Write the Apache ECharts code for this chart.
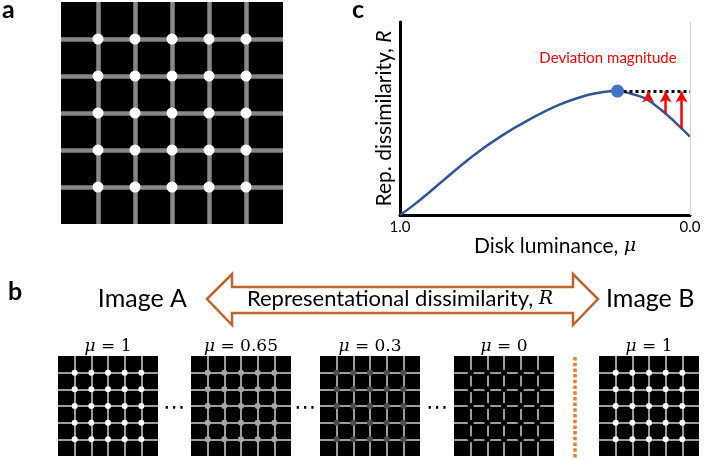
<!DOCTYPE html>
<html><head><meta charset="utf-8">
<script src="https://cdn.jsdelivr.net/npm/echarts@6/dist/echarts.min.js"></script>
<style>html,body{margin:0;padding:0;background:#fff}#c{width:704px;height:459px}</style>
</head><body><div id="c"></div>
<script>
// ---- data ----
const illusionLines = [1, 2, 3, 4, 5];                 // grid-line / disk positions (6x6 cells)
const stimLuminance = [1, 0.65, 0.3, 0, 1];            // disk luminance of the five stimuli
const stimLabels = ['1', '0.65', '0.3', '0', '1'];
const diskLuminance   = [1.0, 0.95, 0.85, 0.75, 0.65, 0.55, 0.45, 0.35, 0.30, 0.25, 0.20, 0.15, 0.10, 0.05, 0.0];
const repDissimilarity = [0.0, 0.055, 0.18, 0.305, 0.41, 0.498, 0.572, 0.623, 0.637, 0.642, 0.627, 0.600, 0.545, 0.479, 0.406];
const peakPoint = [0.25, 0.642];
const deviationMu = [0.144, 0.084, 0.029];
const deviationR  = [0.596, 0.527, 0.449];
const xTicks = [0, 1];

// ---- build ----
const chart = echarts.init(document.getElementById('c'));
const dots = [];
illusionLines.forEach(x => illusionLines.forEach(y => dots.push([x, y])));

const grids = [], xAxes = [], yAxes = [], series = [];
function grey(l) { const v = Math.round(255 * l); return 'rgb(' + v + ',' + v + ',' + v + ')'; }
function addIllusion(box, lineW, lineColor, dotSize, dotColor) {
  const idx = grids.length;
  grids.push({left: box[0], top: box[1], width: box[2], height: box[3], show: true,
              backgroundColor: '#000', borderWidth: 0});
  const ax = () => ({gridIndex: idx, type: 'value', min: 0, max: 6, interval: 1,
    axisLine: {show: false}, axisTick: {show: false}, axisLabel: {show: false},
    splitLine: {show: true, showMinLine: false, showMaxLine: false,
                lineStyle: {color: lineColor, width: lineW}}});
  xAxes.push(ax()); yAxes.push(ax());
  series.push({type: 'scatter', xAxisIndex: idx, yAxisIndex: idx, data: dots, silent: true,
               symbolSize: dotSize, itemStyle: {color: dotColor, opacity: 1}});
}

// panel a
addIllusion([61, 2, 222, 222], 4.5, '#878787', 11, '#fff');

// panel c
const cIdx = grids.length;
grids.push({left: 400, top: 22, width: 290, height: 193});
xAxes.push({gridIndex: cIdx, type: 'value', min: 0, max: 1, interval: 1, inverse: true,
  axisLine: {show: true, onZero: false, lineStyle: {color: '#000', width: 3}}, axisTick: {show: false},
  splitLine: {show: false},
  axisLabel: {show: true, margin: 5, color: '#000', fontFamily: 'Lato', fontSize: 15,
              formatter: v => xTicks.includes(v) ? v.toFixed(1) : ''},
  name: 'Disk luminance, {m|μ}', nameLocation: 'middle', nameGap: 10,
  nameTextStyle: {color: '#000', fontFamily: 'Lato', fontSize: 21, padding: [0, 0, 0, 20],
    rich: {m: {fontFamily: 'DejaVu Serif', fontStyle: 'italic', fontSize: 19, color: '#000'}}}});
yAxes.push({gridIndex: cIdx, type: 'value', min: 0, max: 1, position: 'left',
  axisLine: {show: true, onZero: false, lineStyle: {color: '#000', width: 3}}, axisTick: {show: false},
  axisLabel: {show: false}, splitLine: {show: false},
  name: 'Rep. dissimilarity, {i|R}', nameLocation: 'middle', nameGap: 5,
  nameTextStyle: {color: '#000', fontFamily: 'Lato', fontSize: 21,
    rich: {i: {fontFamily: 'Lato', fontStyle: 'italic', fontSize: 21, color: '#000'}}}});
// faint right-edge line at mu = 0
series.push({type: 'scatter', xAxisIndex: cIdx, yAxisIndex: cIdx, data: [], silent: true, z: 1,
  markLine: {silent: true, symbol: 'none', label: {show: false}, animation: false,
    lineStyle: {type: 'solid', color: '#d8d8d8', width: 1}, data: [{xAxis: xTicks[0]}]}});
series.push({type: 'line', xAxisIndex: cIdx, yAxisIndex: cIdx,
  data: diskLuminance.map((m, i) => [m, repDissimilarity[i]]),
  smooth: 0.4, symbol: 'none', lineStyle: {color: '#2F5597', width: 2.5}, silent: true,
  markLine: {silent: true, symbol: 'none', label: {show: false}, animation: false,
    lineStyle: {type: [3, 3], color: '#000', width: 3},
    data: [[{coord: peakPoint}, {coord: [0, peakPoint[1]]}]]}});
series.push({type: 'scatter', xAxisIndex: cIdx, yAxisIndex: cIdx, data: [], silent: true,
  markLine: {silent: true, symbol: ['none', 'arrow'], symbolSize: [9, 11], label: {show: false},
    animation: false, lineStyle: {type: 'solid', color: '#FF0000', width: 2.5},
    data: deviationMu.map((m, i) => [{coord: [m, deviationR[i]]}, {coord: [m, 0.64]}])}});
series.push({type: 'scatter', xAxisIndex: cIdx, yAxisIndex: cIdx, data: [peakPoint], z: 5,
  symbolSize: 13, itemStyle: {color: '#4472C4', opacity: 1}, silent: true});

// panel b stimuli
const stimLefts = [58, 191, 320, 454, 599];
stimLuminance.forEach((l, i) => addIllusion([stimLefts[i], 356, 100, 100], 2, '#9c9c9c', 6, grey(l)));

// ---- decorations / text ----
const graphic = [
  {type: 'text', left: 2, top: -3, style: {text: 'a', font: 'bold 25px Lato', fill: '#000'}},
  {type: 'text', left: 352, top: -3, style: {text: 'c', font: 'bold 25px Lato', fill: '#000'}},
  {type: 'text', left: 8, top: 279, style: {text: 'b', font: 'bold 25px Lato', fill: '#000'}},
  {type: 'polygon', z: 10, shape: {points: [[207, 299], [232, 274], [232, 287], [573, 287], [573, 274],
      [598, 299], [573, 325], [573, 313], [232, 313], [232, 325]]},
   style: {fill: '#fff', stroke: '#C0642C', lineWidth: 2.5, lineJoin: 'miter'}},
  {type: 'text', z: 11, x: 400, y: 299, style: {text: 'Representational dissimilarity, {i|R}',
      fontFamily: 'Lato', fontSize: 22, fill: '#000', align: 'center', verticalAlign: 'middle',
      rich: {i: {fontFamily: 'DejaVu Serif', fontStyle: 'italic', fontSize: 19, fill: '#000'}}}},
  {type: 'text', x: 187, y: 299, style: {text: 'Image A', fontFamily: 'Lato', fontSize: 25,
      fill: '#000', align: 'right', verticalAlign: 'middle'}},
  {type: 'text', x: 606, y: 299, style: {text: 'Image B', fontFamily: 'Lato', fontSize: 25,
      fill: '#000', align: 'left', verticalAlign: 'middle'}},
  {type: 'text', x: 608, y: 58, style: {text: 'Deviation magnitude', fontFamily: 'Lato', fontSize: 15,
      fill: '#FF0000', align: 'center', verticalAlign: 'middle'}},
  {type: 'line', shape: {x1: 575, y1: 357, x2: 575, y2: 459},
   style: {stroke: '#ED7D31', lineWidth: 3.5, lineDash: [3.5, 2.2]}}
];
stimLabels.forEach((t, i) => graphic.push({type: 'text', x: stimLefts[i] + 50, y: 347,
  style: {text: '{m|μ} = ' + t, fontFamily: 'DejaVu Serif', fontSize: 17, fill: '#000',
    align: 'center', verticalAlign: 'middle',
    rich: {m: {fontFamily: 'DejaVu Serif', fontStyle: 'italic', fontSize: 17, fill: '#000'}}}}));
[174, 305, 437].forEach(x => graphic.push({type: 'text', x: x, y: 408,
  style: {text: '⋯', fontFamily: 'DejaVu Sans', fontSize: 22, fill: '#000', align: 'center', verticalAlign: 'middle'}}));

chart.setOption({animation: false, backgroundColor: '#fff', grid: grids, xAxis: xAxes, yAxis: yAxes,
  series: series, graphic: graphic});
</script></body></html>
